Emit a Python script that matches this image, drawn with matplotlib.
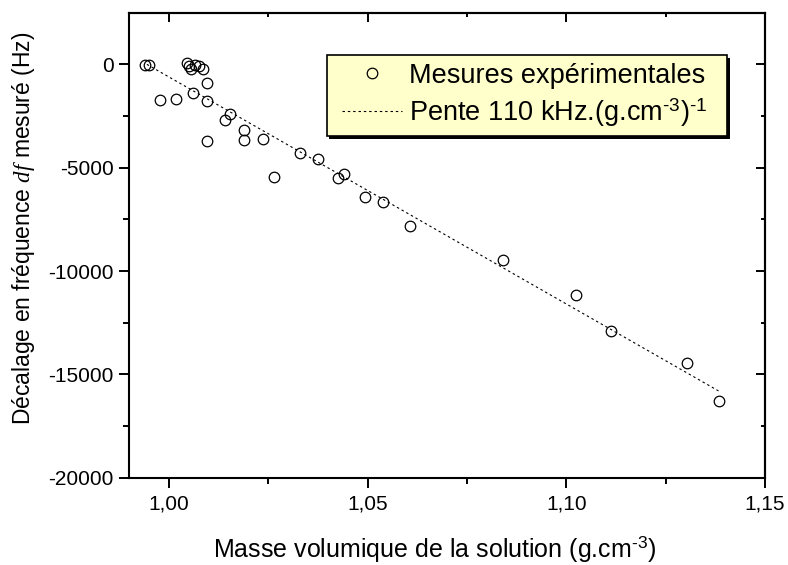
import matplotlib
matplotlib.use("Agg")
import matplotlib.pyplot as plt
from matplotlib.patches import Rectangle
from matplotlib.ticker import FixedLocator, FuncFormatter
import matplotlib.transforms as mtransforms

plt.rcParams['font.family'] = ['Liberation Sans', 'DejaVu Sans']
plt.rcParams['mathtext.fontset'] = 'custom'
plt.rcParams['mathtext.rm'] = 'Liberation Sans'
plt.rcParams['mathtext.sf'] = 'Liberation Sans'
plt.rcParams['mathtext.it'] = 'Liberation Serif:italic'
plt.rcParams['axes.unicode_minus'] = False

# measured points: density (g/cm3) and frequency shift (Hz)
density = [0.9939, 0.9950, 0.9978, 1.0019, 1.0046, 1.0050, 1.0056, 1.0067,
           1.0077, 1.0086, 1.0061, 1.0095, 1.0095, 1.0142, 1.0153, 1.0095,
           1.0189, 1.0189, 1.0236, 1.0266, 1.0329, 1.0375, 1.0427, 1.0442,
           1.0494, 1.0538, 1.0606, 1.0840, 1.1025, 1.1113, 1.1305, 1.1384]
shift = [-20, -40, -1700, -1680, 60, -96, -227, -16,
         -82, -241, -1385, -883, -1785, -2668, -2412, -3700,
         -3198, -3666, -3618, -5451, -4308, -4597, -5485, -5321,
         -6401, -6643, -7815, -9455, -11143, -12880, -14458, -16291]

# fitted slope line endpoints
fit_x = [0.9945, 1.1383]
fit_y = [0, -15800]

xticks = [1.00, 1.05, 1.10, 1.15]
xminor = [1.025, 1.075, 1.125]
yticks = [0, -5000, -10000, -15000, -20000]
yminor = [-2500, -7500, -12500, -17500]

fig = plt.figure(figsize=(7.88, 5.65), dpi=100)
ax = fig.add_axes([129/788, 1-477.7/565, 636/788, 465/565])

ax.plot(density, shift, linestyle='none', marker='o', markersize=7.6,
        markerfacecolor='none', markeredgecolor='black', markeredgewidth=0.9,
        label='Mesures expérimentales', zorder=3)
ax.plot(fit_x, fit_y, color='black', linewidth=0.8, linestyle=(0, (2.2, 2.6)),
        label=r'Pente 110 kHz.(g.cm$^{\text{-3}}$)$^{\text{-1}}$', zorder=2)

ax.set_xlim(0.99, 1.15)
ax.set_ylim(-20000, 2500)

ax.xaxis.set_major_locator(FixedLocator(xticks))
ax.xaxis.set_minor_locator(FixedLocator(xminor))
ax.yaxis.set_major_locator(FixedLocator(yticks))
ax.yaxis.set_minor_locator(FixedLocator(yminor))
ax.xaxis.set_major_formatter(FuncFormatter(lambda v, p: f"{v:.2f}".replace('.', ',')))
ax.yaxis.set_major_formatter(FuncFormatter(lambda v, p: f"{int(round(v))}"))

for s in ax.spines.values():
    s.set_linewidth(1.5)

ax.tick_params(which='both', direction='out', width=1.4, labelsize=15,
               top=False, right=False)
ax.tick_params(which='major', length=7)
ax.tick_params(which='minor', length=4)
ax.tick_params(axis='x', pad=5)
ax.tick_params(axis='y', pad=4)

secx = ax.secondary_xaxis('top')
secx.xaxis.set_major_locator(FixedLocator(xticks))
secx.xaxis.set_minor_locator(FixedLocator(xminor))
secx.tick_params(which='both', direction='in', width=1.4, labeltop=False)
secx.tick_params(which='major', length=6.5)
secx.tick_params(which='minor', length=3)
secx.spines['top'].set_linewidth(1.5)

secy = ax.secondary_yaxis('right')
secy.yaxis.set_major_locator(FixedLocator(yticks))
secy.yaxis.set_minor_locator(FixedLocator(yminor))
secy.tick_params(which='both', direction='in', width=1.4, labelright=False)
secy.tick_params(which='major', length=6.5)
secy.tick_params(which='minor', length=3)
secy.spines['right'].set_linewidth(1.5)

ax.set_xlabel(r'Masse volumique de la solution (g.cm$^{\text{-3}}$)', fontsize=18)
ax.set_ylabel(r'Décalage en fréquence $df$ mesuré (Hz)', fontsize=16.5)
ax.xaxis.set_label_coords(0.48, -0.122)
ax.yaxis.set_label_coords(-0.145, 0.536)

# legend frame (light yellow box with dark shadow)
bx0, bx1 = 0.3113, 0.9403
by0, by1 = 0.7348, 0.9090
shadow_tr = ax.transAxes + mtransforms.ScaledTranslation(2.5/100, -2.5/100, fig.dpi_scale_trans)
ax.add_patch(Rectangle((bx0, by0), bx1-bx0, by1-by0, transform=shadow_tr,
                       facecolor='black', edgecolor='black', linewidth=0,
                       zorder=4, clip_on=False))
ax.add_patch(Rectangle((bx0, by0), bx1-bx0, by1-by0, transform=ax.transAxes,
                       facecolor='#FFFFCC', edgecolor='black', linewidth=1.2,
                       zorder=4.5, clip_on=False))

leg = ax.legend(loc='upper left', bbox_to_anchor=(0.335, 0.892),
                borderaxespad=0, borderpad=0, fontsize=19.5, frameon=False,
                handlelength=2.22, handletextpad=0.25, labelspacing=0.28)
leg.set_zorder(5)

fig.savefig('out.png', dpi=100)
